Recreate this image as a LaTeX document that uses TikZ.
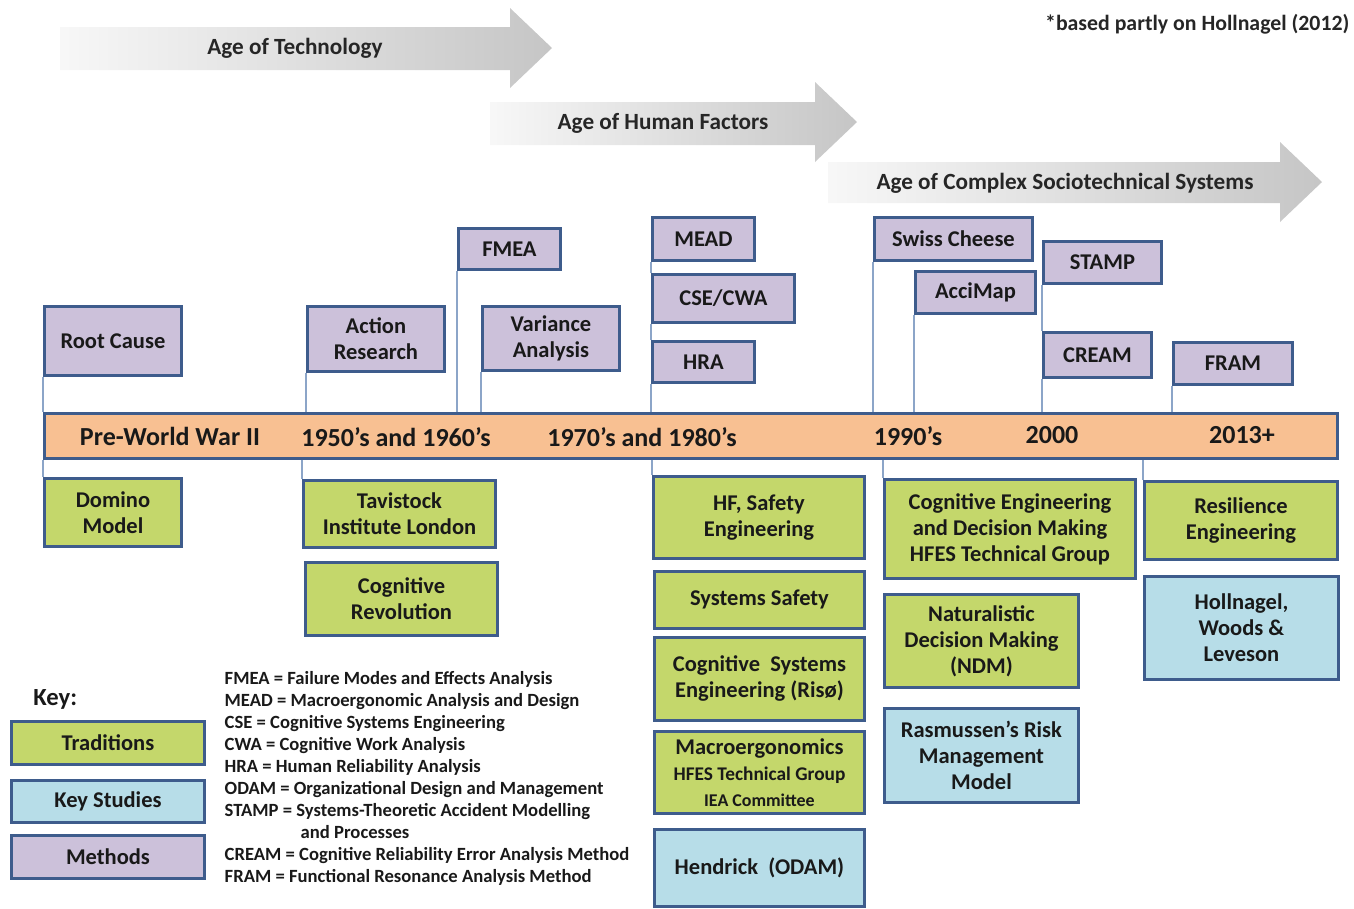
\documentclass[tikz,border=0pt]{standalone}
\usepackage{fontspec}
\setmainfont{Carlito}

\begin{document}
\begin{tikzpicture}[x=0.01cm,y=-0.01cm,
    box/.style={draw=frame, line width=0.8pt, anchor=north west, inner sep=0pt,
      align=center, text=black!90, font=\bfseries\fontsize{6.4}{7.4}\selectfont},
    method/.style={box, fill=methodfill},
    tradition/.style={box, fill=tradfill},
    study/.style={box, fill=studyfill},
    link/.style={draw=linkcol, line width=0.5pt},
    era/.style={font=\bfseries\fontsize{7.4}{9}\selectfont, text=black!90},
    agelabel/.style={font=\bfseries\fontsize{6.6}{8}\selectfont, text=black!85}]
          \definecolor{frame}{RGB}{62,92,140}
          \definecolor{methodfill}{RGB}{204,193,218}
          \definecolor{tradfill}{RGB}{196,215,107}
          \definecolor{studyfill}{RGB}{183,221,232}
          \definecolor{barfill}{RGB}{248,192,146}
          \definecolor{linkcol}{RGB}{140,165,200}
          \useasboundingbox (0,0) rectangle (1354,908);

          % ages
          \shade[left color=gray!6, right color=gray!45] (60,27) -- (510,27) -- (510,8) -- (552,48)
            -- (510,88) -- (510,70) -- (60,70) -- cycle;
          \shade[left color=gray!6, right color=gray!45] (490,102) -- (815,102) -- (815,82) -- (857,122)
            -- (815,162) -- (815,145) -- (490,145) -- cycle;
          \shade[left color=gray!6, right color=gray!45] (828,162) -- (1280,162) -- (1280,142) -- (1322,182)
            -- (1280,222) -- (1280,203) -- (828,203) -- cycle;
          \node[agelabel] (agetech) at (295,48) {Age of Technology};
          \node[agelabel] (agehf) at (663,123) {Age of Human Factors};
          \node[agelabel] (agecss) at (1065,183) {Age of Complex Sociotechnical Systems};
          \node[agelabel, anchor=east, inner sep=0pt, font=\bfseries\fontsize{6.2}{8}\selectfont] (source) at (1350,24)
            {*based partly on Hollnagel (2012)};

          % timeline
          \node[draw=frame, fill=barfill, line width=0.8pt, anchor=north west, inner sep=0pt,
            minimum width=12.92cm, minimum height=0.45cm] (timeline) at (43,412) {};
          \node[era] (prewar) at (170,436) {Pre-World War II};
          \node[era] (fifties) at (396,437) {1950’s and 1960’s};
          \node[era] (seventies) at (642,437) {1970’s and 1980’s};
          \node[era] (nineties) at (908,436) {1990’s};
          \node[era] (twothousand) at (1052,435) {2000};
          \node[era] (now) at (1242,435) {2013+};

          % methods
          \node[method, minimum width=1.37cm, minimum height=0.69cm] (rootcause) at (43,305) {Root Cause};
          \node[method, minimum width=1.37cm, minimum height=0.65cm] (action) at (306,305) {Action\\Research};
          \node[method, minimum width=1.02cm, minimum height=0.41cm] (fmea) at (457,227) {FMEA};
          \node[method, minimum width=1.37cm, minimum height=0.64cm] (variance) at (481,305) {Variance\\Analysis};
          \node[method, minimum width=1.02cm, minimum height=0.43cm] (mead) at (651,216) {MEAD};
          \node[method, minimum width=1.42cm, minimum height=0.48cm] (csecwa) at (651,273) {CSE/CWA};
          \node[method, minimum width=1.02cm, minimum height=0.41cm] (hra) at (651,340) {HRA};
          \node[method, minimum width=1.58cm, minimum height=0.43cm] (swiss) at (873,216) {Swiss Cheese};
          \node[method, minimum width=1.20cm, minimum height=0.42cm] (accimap) at (914,270) {AcciMap};
          \node[method, minimum width=1.18cm, minimum height=0.42cm] (stamp) at (1042,240) {STAMP};
          \node[method, minimum width=1.08cm, minimum height=0.45cm] (cream) at (1042,331) {CREAM};
          \node[method, minimum width=1.19cm, minimum height=0.42cm] (fram) at (1172,341) {FRAM};

          % traditions and key studies
          \node[tradition, minimum width=1.37cm, minimum height=0.68cm] (domino) at (43,477) {Domino\\Model};
          \node[tradition, minimum width=1.92cm, minimum height=0.67cm] (tavistock) at (302,479) {Tavistock\\Institute London};
          \node[tradition, minimum width=1.92cm, minimum height=0.73cm] (cogrev) at (304,561) {Cognitive\\Revolution};
          \node[tradition, minimum width=2.11cm, minimum height=0.82cm] (hfsafety) at (652,475) {HF, Safety\\Engineering};
          \node[tradition, minimum width=2.10cm, minimum height=0.57cm] (syssafety) at (653,570) {Systems Safety};
          \node[tradition, minimum width=2.10cm, minimum height=0.83cm] (riso) at (653,636) {Cognitive~ Systems\\Engineering (Risø)};
          \node[tradition, minimum width=2.10cm, minimum height=0.82cm] (macro) at (653,730)
            {Macroergonomics\\{\fontsize{5.5}{6.8}\selectfont HFES Technical Group}\\{\fontsize{5.1}{6.4}\selectfont IEA Committee}};
          \node[study, minimum width=2.10cm, minimum height=0.77cm] (hendrick) at (653,828) {Hendrick~ (ODAM)};
          \node[tradition, minimum width=2.51cm, minimum height=0.99cm] (cedm) at (883,478)
            {Cognitive Engineering\\and Decision Making\\HFES Technical Group};
          \node[tradition, minimum width=1.94cm, minimum height=0.93cm] (ndm) at (883,593) {Naturalistic\\Decision Making\\(NDM)};
          \node[study, minimum width=1.94cm, minimum height=0.94cm] (rasmussen) at (883,707) {Rasmussen’s Risk\\Management\\Model};
          \node[tradition, minimum width=1.93cm, minimum height=0.78cm] (resilience) at (1143,480) {Resilience\\Engineering};
          \node[study, minimum width=1.94cm, minimum height=1.03cm] (hwl) at (1143,575) {Hollnagel,\\Woods \&\\Leveson};

          % connectors
          \foreach \n in {rootcause,action,fmea,variance,hra,swiss,accimap,cream,fram}
            \draw[link] (\n.south west) -- (\n.south west |- timeline.north);
          \draw[link] (mead.south west) -- (csecwa.north west);
          \draw[link] (csecwa.south west) -- (hra.north west);
          \draw[link] (stamp.south west) -- (cream.north west);
          \foreach \n in {domino,tavistock,hfsafety,cedm,resilience}
            \draw[link] (timeline.south -| \n.north west) -- (\n.north west);

          % key
          \node[anchor=west, font=\bfseries\fontsize{7}{8}\selectfont, text=black!90] (keytitle) at (21,699) {Key:};
          \node[tradition, minimum width=1.93cm, minimum height=0.43cm] (keytrad) at (10,720) {Traditions};
          \node[study, minimum width=1.93cm, minimum height=0.42cm] (keystudy) at (10,779) {Key Studies};
          \node[method, minimum width=1.93cm, minimum height=0.43cm] (keymethod) at (10,834) {Methods};
          \node[anchor=north west, inner sep=0pt, align=left, text=black!90,
            font=\bfseries\fontsize{5.3}{6.26}\selectfont] (abbrev) at (224,671)
            {FMEA = Failure Modes and Effects Analysis\\
             MEAD = Macroergonomic Analysis and Design\\
             CSE = Cognitive Systems Engineering\\
             CWA = Cognitive Work Analysis\\
             HRA = Human Reliability Analysis\\
             ODAM = Organizational Design and Management\\
             STAMP = Systems-Theoretic Accident Modelling\\
             \hspace{0.76cm}and Processes\\
             CREAM = Cognitive Reliability Error Analysis Method\\
             FRAM = Functional Resonance Analysis Method};
    \end{tikzpicture}
\end{document}
